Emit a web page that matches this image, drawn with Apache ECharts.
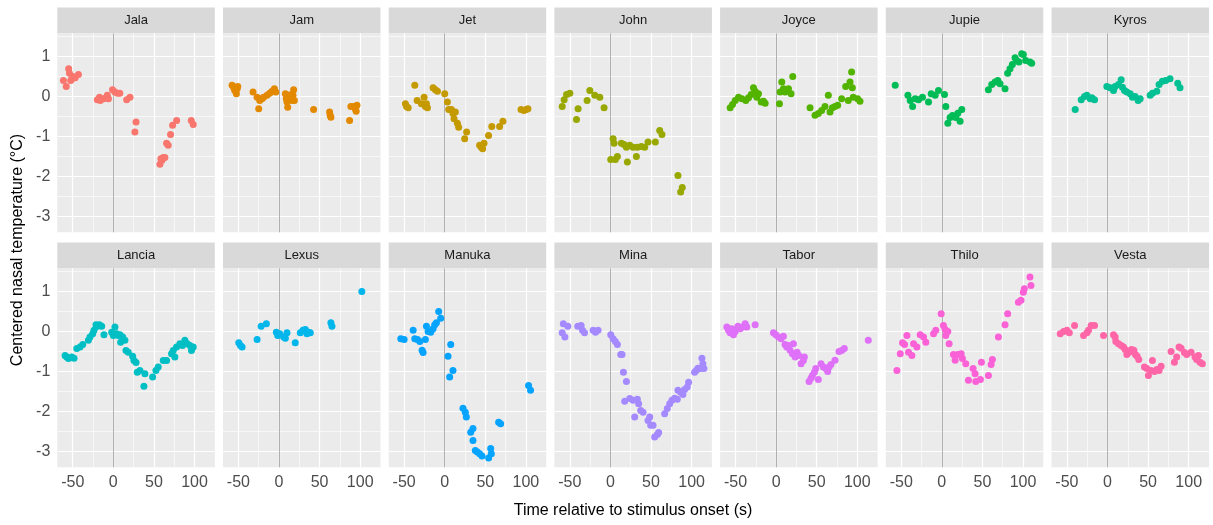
<!DOCTYPE html>
<html>
<head>
<meta charset="utf-8">
<script src="https://cdn.jsdelivr.net/npm/echarts@6/dist/echarts.min.js"></script>
<style>html,body{margin:0;padding:0;background:#fff;}#chart{width:1213px;height:525px;}</style>
</head>
<body>
<div id="chart"></div>
<script>
const animals = ['Jala','Jam','Jet','John','Joyce','Jupie','Kyros','Lancia','Lexus','Manuka','Mina','Tabor','Thilo','Vesta'];
const xTicks = [-50, 0, 50, 100];
const yTicks = [-3, -2, -1, 0, 1];
const xMinor = [-25, 25, 75];
const yMinor = [-2.5, -1.5, -0.5, 0.5, 1.5];

const jala = [[-61.5,0.4],[-58,0.25],[-55,0.69],[-54,0.58],[-52.5,0.4],[-51,0.44],[-50,0.5],[-47,0.47],[-43,0.55],
  [-19.7,-0.08],[-17,-0.02],[-16,-0.1],[-12,-0.06],[-9,-0.03],[-7.4,0.03],[-6,-0.06],[-1,0.17],[2,0.11],[5,0.08],[8,0.08],
  [16.4,-0.08],[20.5,-0.02],[28,-0.64],[26.6,-0.89],[57.4,-1.7],[58.6,-1.56],[60,-1.6],[61.5,-1.53],[63.5,-1.53],
  [65.6,-1.17],[67.6,-1.22],[70.5,-0.95],[73,-0.72],[78,-0.6],[96,-0.6],[98.4,-0.7]];
const jam = [[-57.8,0.28],[-55.7,0.22],[-54.5,0.15],[-52.5,0.07],[-51.6,0.19],[-50.8,0.25],[-32,0.11],[-27,-0.02],[-25,-0.31],
  [-23.8,-0.1],[-21,-0.06],[-19,-0.02],[-14.8,0.03],[-11.5,0.08],[-8.6,0.13],[-5.7,0.19],[-4,0.11],[7.8,0.07],[9,-0.06],
  [9.8,-0.14],[10.7,-0.27],[11.9,-0.02],[13.9,0.04],[16,-0.1],[17.2,0.03],[18,0.17],[18.9,-0.1],[42.6,-0.33],[62.3,-0.39],
  [63,-0.47],[63.9,-0.52],[86.9,-0.6],[88.5,-0.25],[91.8,-0.25],[93.9,-0.31],[96,-0.22],[95,-0.37]];
const jet = [[-48.4,-0.18],[-47,-0.25],[-45,-0.28],[-36.9,0.28],[-34,-0.1],[-28.7,-0.18],[-25.4,-0.02],[-23.8,-0.25],
  [-21.3,-0.28],[-22.5,-0.18],[-14.3,0.22],[-11.5,0.17],[-9,0.13],[0,0.07],[3.3,-0.14],[4.9,-0.33],[8.2,-0.33],[10.2,-0.43],
  [11.5,-0.56],[13.1,-0.39],[15.6,-0.67],[17.2,-0.77],[24.6,-1.06],[27,-0.89],[43,-1.22],[45,-1.27],[46.7,-1.31],[48.4,-1.17],
  [54,-0.98],[58,-0.75],[67.6,-0.75],[71.7,-0.62],[94,-0.33],[97.5,-0.35],[100.4,-0.33],[102.5,-0.31]];
const john = [[-59.4,-0.25],[-57,-0.08],[-54,0.05],[-50,0.08],[-41.8,-0.58],[-39.8,-0.31],[-28.7,-0.1],[-25.4,0.15],
  [-19.3,0.03],[-13.1,-0.02],[-7.8,-0.28],[3.3,-1.06],[4.5,-1.17],[0.4,-1.58],[6.1,-1.58],[8.6,-1.5],[13.5,-1.17],
  [16.8,-1.2],[19.7,-1.27],[20.9,-1.64],[23.8,-1.22],[27.9,-1.27],[32,-1.5],[33.2,-1.27],[38.1,-1.25],[42.2,-1.27],
  [46.3,-1.14],[55.3,-1.14],[60.7,-0.85],[63.5,-0.95],[83.2,-1.98],[86.5,-2.39],[88.5,-2.28]];
const joyce = [[-56.6,-0.28],[-53.7,-0.2],[-50.4,-0.1],[-46.3,-0.02],[-42.2,-0.06],[-37.3,-0.1],[-34,-0.03],[-30.7,0.05],
  [-27.9,0.22],[-25.8,0.13],[-23.8,-0.02],[-21.7,0.07],[-18.4,-0.14],[-15.6,-0.12],[-13.5,-0.17],[4.1,-0.18],[4.9,0.11],
  [7,0.36],[9,0.19],[11,0.11],[15.2,0.19],[18.4,0.07],[20.5,0.5],[41.8,-0.28],[47.9,-0.47],[52,-0.43],[56.1,-0.35],
  [60.2,-0.25],[64.3,0.03],[66.4,-0.39],[69.3,-0.28],[72.5,-0.25],[75.8,-0.22],[80.7,-0.06],[85.7,0.25],[88.9,-0.1],
  [91,0.36],[93,0.61],[93.9,0.22],[95,-0.02],[100.4,-0.06],[103.3,-0.12]];
const jupie = [[-57.4,0.28],[-41.8,0.03],[-38.9,-0.1],[-36,-0.25],[-32.8,-0.06],[-28.7,-0.08],[-23.8,-0.02],[-16.4,-0.14],
  [-13.1,0.07],[-8.2,0.03],[-4.1,0.15],[3.3,0.05],[4.9,-0.25],[7.4,-0.67],[10.2,-0.53],[13.1,-0.48],[17.2,-0.53],
  [19.7,-0.42],[22.5,-0.62],[24.6,-0.33],[57.4,0.17],[61.5,0.3],[65.6,0.36],[68.9,0.4],[71.7,0.32],[77.9,0.19],[81.1,0.58],
  [84,0.69],[86.9,0.8],[90.2,0.97],[92.2,0.9],[95,0.86],[98.4,1.07],[100.4,1.05],[103.3,0.9],[108.6,0.86],[110.7,0.83]];
const kyros = [[-39.8,-0.33],[-32.4,-0.08],[-28.3,0],[-25.4,0.03],[-21.3,-0.06],[-19.3,-0.03],[-16,-0.08],[-0.8,0.25],
  [3.3,0.22],[7.4,0.15],[9.4,0.25],[13.5,0.3],[16.8,0.42],[18.4,0.23],[20.9,0.15],[23.8,0.11],[27.9,0.07],[30.7,-0.02],
  [34,0],[37.7,-0.1],[40.2,-0.06],[52.5,0.03],[55.3,0.08],[60.7,0.13],[63.5,0.3],[67.6,0.38],[71.7,0.4],[77,0.44],
  [86.5,0.33],[89.3,0.22]];
const lancia = [[-59.4,-0.6],[-57.4,-0.64],[-55.3,-0.68],[-51.2,-0.64],[-48.4,-0.67],[-45,-0.43],[-41,-0.39],[-37.7,-0.33],
  [-30.7,-0.22],[-28.7,-0.14],[-25.4,-0.06],[-23.8,0.03],[-21.3,0.17],[-19.7,0.13],[-17.2,0.17],[-14.3,0.13],[-11.5,-0.08],
  [-2,-0.02],[0,-0.1],[2,0.11],[4.1,-0.06],[6.1,-0.1],[8.2,-0.08],[9,-0.27],[11.5,-0.14],[14.3,-0.22],[15.6,-0.48],
  [18.4,-0.52],[23.8,-0.62],[25.4,-0.73],[28,-0.78],[29.5,-1.02],[32.8,-0.98],[38.9,-1.06],[37.7,-1.37],[48.4,-1.14],
  [52.5,-0.98],[55.3,-0.89],[61.5,-0.73],[65.6,-0.73],[71.7,-0.56],[73.8,-0.48],[75.8,-0.64],[77.9,-0.39],[82,-0.31],
  [85.2,-0.35],[88.1,-0.22],[91,-0.31],[94.3,-0.35],[96.3,-0.48],[98.4,-0.39]];
const lexus = [[-49.6,-0.28],[-47.5,-0.35],[-45.5,-0.39],[-27,-0.2],[-22,0.13],[-15.6,0.19],[-3.3,-0.02],[-1.6,-0.1],
  [0.8,-0.06],[5.7,-0.14],[7.8,-0.17],[9.8,-0.03],[20,-0.28],[26.2,-0.03],[29.5,0.03],[32.4,0.05],[34.4,-0.06],
  [36.5,-0.02],[38.5,-0.03],[63.9,0.22],[65.2,0.13],[102,1.0]];
const manuka = [[-54.1,-0.18],[-50,-0.2],[-38.9,0.03],[-36.9,-0.18],[-33.6,-0.2],[-30.7,-0.25],[-27.9,-0.47],[-26.6,-0.53],
  [-23.8,-0.2],[-22.5,0.13],[-20.5,0],[-17.2,-0.02],[-14.3,0.07],[-12.3,0.17],[-10.2,0.22],[-7.4,0.5],[-4.9,0.33],
  [4.1,-0.62],[7.4,-0.33],[6.1,-1.14],[10.2,-0.98],[22.5,-1.92],[25.4,-2.02],[26.6,-2.14],[32,-2.52],[34.8,-2.43],
  [34.8,-2.73],[37.7,-2.98],[40.2,-3.02],[43,-3.06],[45.9,-3.12],[54.1,-3.17],[56.6,-2.93],[57.4,-3.06],[66.4,-2.27],
  [68.9,-2.31],[103.3,-1.35],[105.7,-1.47]];
const mina = [[-59.4,-0.03],[-56.1,-0.14],[-58,0.19],[-52.5,0.13],[-40.2,0.13],[-36.1,0.15],[-34.4,0.03],[-31.9,-0.03],
  [-21.3,0.03],[-18.4,-0.02],[-15.2,0.03],[0.4,-0.08],[3.3,-0.18],[6.1,-0.25],[8.6,-0.33],[12.7,-0.58],[14.3,-0.58],
  [16,-1.02],[19.7,-1.25],[17.6,-1.75],[23.8,-1.68],[27.9,-1.72],[29.9,-2.14],[33.2,-1.7],[34.8,-1.81],[37.3,-1.98],
  [40.2,-2.02],[46.3,-2.23],[48.4,-2.14],[49.6,-2.35],[52.5,-2.35],[54.5,-2.64],[57.8,-2.58],[59.4,-2.53],[66.8,-2.06],
  [70.1,-1.93],[73,-1.81],[75.8,-1.72],[79.1,-1.67],[82.4,-1.7],[83.2,-1.47],[86.5,-1.52],[89.3,-1.58],[91.4,-1.45],
  [94.7,-1.39],[96.3,-1.27],[103.7,-1.02],[105.7,-0.98],[107.8,-0.92],[111,-0.93],[112.7,-0.67],[113.9,-0.81],[115.2,-0.93]];
const tabor = [[-60.7,0.11],[-58.6,0.03],[-56.6,-0.03],[-54.5,0.07],[-52.5,-0.08],[-50.4,0],[-47.1,0.13],[-44.3,0.07],
  [-41.4,0.11],[-38.1,0.19],[-36.1,0.11],[-25.8,0.17],[-3.3,-0.03],[-0.4,-0.08],[2.9,-0.14],[6.1,-0.18],[9,-0.12],
  [11,-0.33],[13.1,-0.39],[15.2,-0.35],[17.2,-0.47],[20.1,-0.56],[21.3,-0.31],[23.4,-0.64],[25.8,-0.52],[27.9,-0.6],
  [30.7,-0.81],[33.6,-0.73],[34.8,-0.64],[40.6,-1.25],[43,-1.17],[44.7,-1.1],[47.1,-1.02],[48.8,-0.93],[52,-1.2],
  [55.3,-0.81],[58.2,-0.89],[61.1,-0.93],[63.5,-1],[65.2,-0.89],[67.6,-0.83],[72.5,-0.72],[77.5,-0.5],[80.7,-0.48],
  [84,-0.43],[113.5,-0.22]];
const thilo = [[-55.3,-0.98],[-51.2,-0.56],[-48.4,-0.28],[-45.9,-0.33],[-43,-0.1],[-41,-0.52],[-36.9,-0.6],[-34.8,-0.31],
  [-30.7,-0.39],[-26.6,-0.08],[-22.5,-0.14],[-19.7,-0.27],[-10.2,-0.06],[-7.4,0.03],[-0.8,0.44],[2,0.15],[4.1,0.05],
  [4.9,-0.1],[7.4,0],[9,-0.31],[14.3,-0.58],[16.4,-0.72],[19.7,-0.58],[23.8,-0.56],[25.4,-0.68],[29.5,-0.81],[32.8,-1.22],
  [38.5,-0.93],[41,-1.06],[41.8,-1.25],[47.5,-1.2],[48.8,-0.77],[57.4,-1.1],[60.7,-0.83],[62.3,-0.7],[69.7,-0.14],
  [77.9,0.17],[81.1,0.44],[94.3,0.73],[97.5,0.78],[100.4,0.98],[101.6,1.07],[108.6,1.36],[109.8,1.15]];
const vesta = [[-58.2,-0.06],[-54.1,0],[-50,0.03],[-47.1,-0.03],[-40.6,0.15],[-29.5,-0.1],[-25.4,-0.03],[-23.4,0.03],
  [-20.1,0.15],[-16,0.15],[-4.9,-0.1],[7.4,-0.08],[9.4,-0.14],[10.2,-0.25],[13.5,-0.31],[16.8,-0.35],[19.7,-0.39],
  [21.7,-0.45],[23.8,-0.58],[26.6,-0.52],[29.5,-0.45],[32.4,-0.47],[34.4,-0.58],[36.5,-0.62],[38.5,-0.7],[45.5,-0.89],
  [48.4,-0.93],[50.4,-1.1],[53.7,-0.98],[55.3,-0.73],[57.8,-1],[60.7,-0.95],[63.5,-0.98],[66,-0.87],[78.3,-0.5],
  [82.4,-0.77],[85.2,-0.64],[88.1,-0.39],[90.6,-0.42],[94.7,-0.53],[97.5,-0.58],[102.9,-0.52],[107.8,-0.64],
  [109.8,-0.7],[111.9,-0.6],[113.9,-0.77],[116.8,-0.81]];

const seriesData = [jala, jam, jet, john, joyce, jupie, kyros, lancia, lexus, manuka, mina, tabor, thilo, vesta];
const palette = ["#F8766D","#E38900","#C49A00","#99A800","#53B400","#00BC56","#00C094","#00BFC4","#00B6EB","#06A4FF","#A58AFF","#DF70F8","#FB61D7","#FF66A8"];

const FONT = '"Liberation Sans", Arial, sans-serif';
const L0 = 57.3, STEP = 165.7, W = 157.5, H = 199;
const TOPS = [33.3, 268.3], STRIP_H = 25.8;

const grids = [], xAxes = [], yAxes = [], series = [], graphics = [];
const gridLines = [];
xTicks.forEach(v => gridLines.push({xAxis: v, lineStyle: {color: '#FFFFFF', width: 1.2, type: 'solid'}}));
xMinor.forEach(v => gridLines.push({xAxis: v, lineStyle: {color: '#FFFFFF', width: 0.6, type: 'solid'}}));
yTicks.forEach(v => gridLines.push({yAxis: v, lineStyle: {color: '#FFFFFF', width: 1.2, type: 'solid'}}));
yMinor.forEach(v => gridLines.push({yAxis: v, lineStyle: {color: '#FFFFFF', width: 0.6, type: 'solid'}}));

animals.forEach((name, i) => {
  const r = Math.floor(i / 7), c = i % 7;
  const left = L0 + c * STEP, top = TOPS[r];
  grids.push({left: left, top: top, width: W, height: H, show: true, backgroundColor: '#EBEBEB', borderWidth: 0});
  xAxes.push({
    gridIndex: i, type: 'value', min: -69, max: 125,
    axisLine: {show: false}, splitLine: {show: false},
    axisTick: {show: r === 1, customValues: xTicks, length: 4, lineStyle: {color: '#333333', width: 1}},
    axisLabel: {show: r === 1, customValues: xTicks, margin: 7, color: '#4D4D4D', fontSize: 16, fontFamily: FONT}
  });
  yAxes.push({
    gridIndex: i, type: 'value', min: -3.4, max: 1.58,
    axisLine: {show: false}, splitLine: {show: false},
    axisTick: {show: c === 0, customValues: yTicks, length: 4, lineStyle: {color: '#333333', width: 1}},
    axisLabel: {show: c === 0, customValues: yTicks, margin: 7, color: '#4D4D4D', fontSize: 16, fontFamily: FONT}
  });
  series.push({
    type: 'scatter', xAxisIndex: i, yAxisIndex: i, data: [], z: 1, silent: true,
    markLine: {silent: true, symbol: 'none', z: 1, animation: false, label: {show: false},
      data: gridLines.concat([{xAxis: 0, lineStyle: {color: '#B0B0B0', width: 1, type: 'solid'}}])}
  });
  series.push({
    type: 'scatter', name: name, xAxisIndex: i, yAxisIndex: i, data: seriesData[i], z: 3,
    symbol: 'circle', symbolSize: 7, itemStyle: {color: palette[i], opacity: 1}
  });
  graphics.push({type: 'rect', silent: true, shape: {x: left, y: top - STRIP_H, width: W, height: STRIP_H}, style: {fill: '#D9D9D9'}});
  graphics.push({type: 'text', silent: true, x: left + W / 2, y: top - STRIP_H / 2,
    style: {text: name, align: 'center', verticalAlign: 'middle', fill: '#1A1A1A', font: '13px ' + FONT}});
});

graphics.push({type: 'text', silent: true, x: 633, y: 511,
  style: {text: 'Time relative to stimulus onset (s)', align: 'center', verticalAlign: 'middle', fill: '#000000', font: '16px ' + FONT}});
graphics.push({type: 'text', silent: true, x: 18, y: 250, rotation: Math.PI / 2,
  style: {text: 'Centered nasal temperature (°C)', align: 'center', verticalAlign: 'middle', fill: '#000000', font: '16px ' + FONT}});

const chart = echarts.init(document.getElementById('chart'), null, {renderer: 'canvas'});
chart.setOption({
  animation: false,
  backgroundColor: '#FFFFFF',
  grid: grids, xAxis: xAxes, yAxis: yAxes, series: series, graphic: graphics
});
</script>
</body>
</html>
